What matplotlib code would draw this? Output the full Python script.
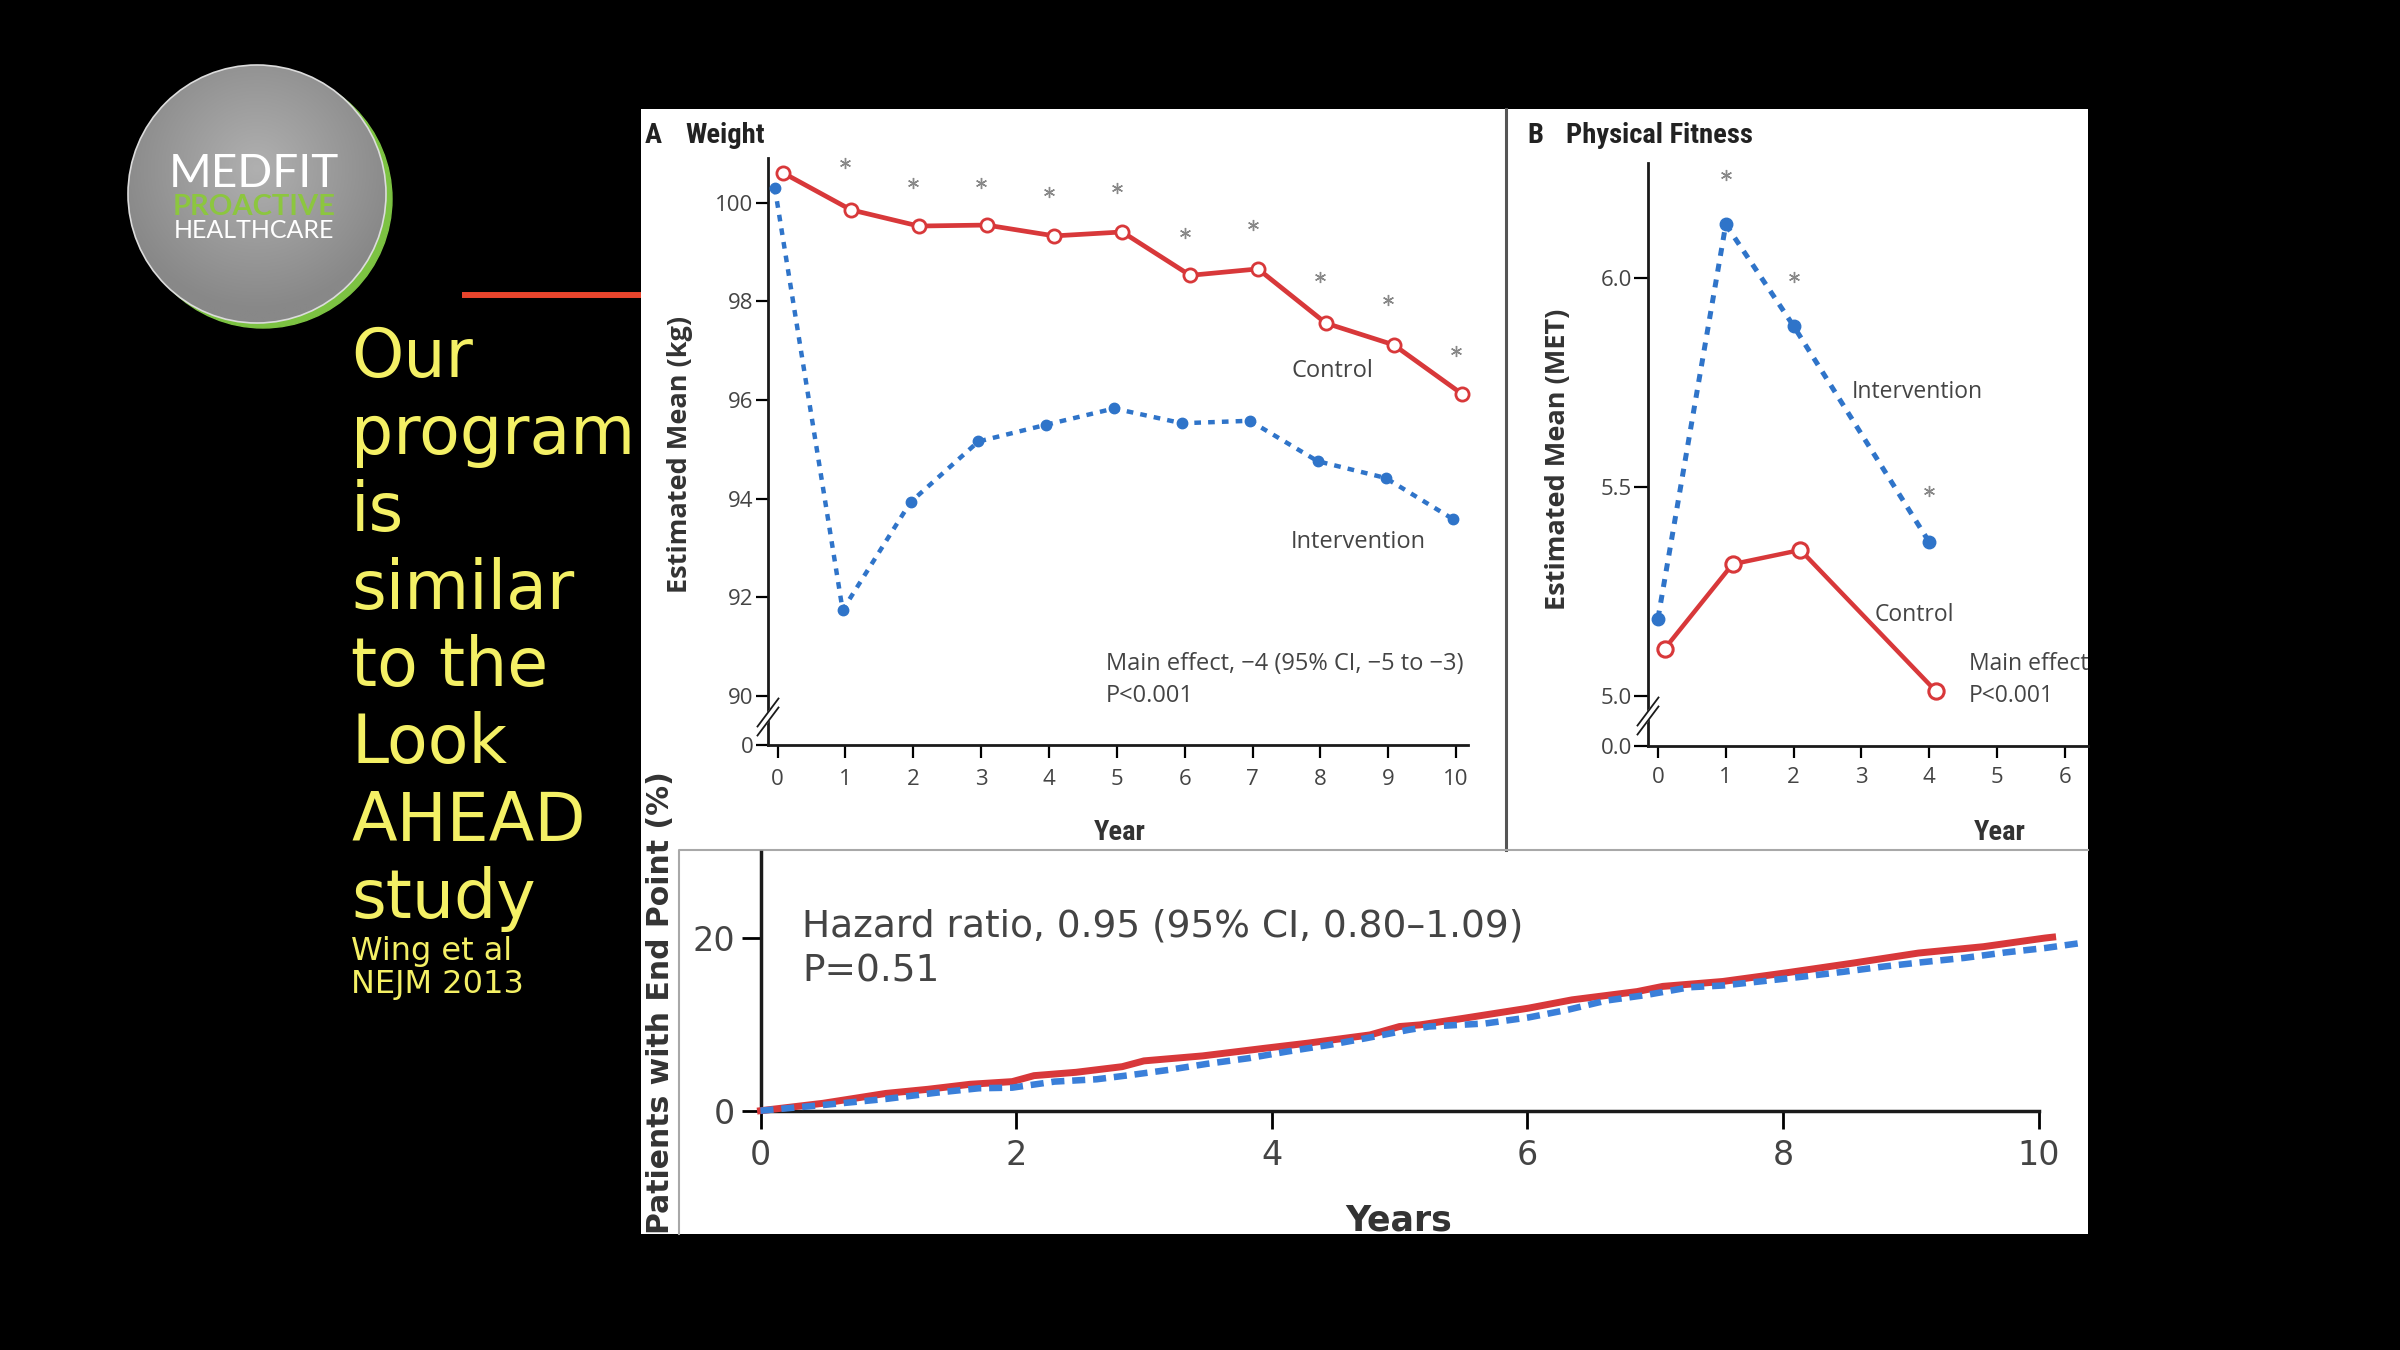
import numpy as np
import matplotlib.pyplot as plt
from matplotlib.patches import Circle, Rectangle
from matplotlib.colors import LinearSegmentedColormap

# slide: Look AHEAD results (weight, fitness, end point) next to a MEDFIT logo

plt.rcParams['font.family'] = ['Open Sans', 'DejaVu Sans']

W, H = 2400, 1350

# ---- data ----
weight_years = np.arange(0, 11)
weight_control = [100.61, 99.86, 99.53, 99.55, 99.33, 99.41, 98.53, 98.66, 97.56, 97.12, 96.13]
weight_interv = [100.31, 91.74, 93.93, 95.16, 95.50, 95.83, 95.53, 95.58, 94.76, 94.42, 93.58]
weight_star_years = np.arange(1, 11)
weight_star_y = [100.80, 100.41, 100.41, 100.22, 100.31, 99.38, 99.56, 98.49, 98.03, 97.00]
weight_ticks = [90, 92, 94, 96, 98, 100]

fitness_years = np.array([0, 1, 2, 4])
fitness_interv = [5.186, 6.129, 5.886, 5.369]
fitness_control = [5.114, 5.316, 5.350, 5.012]
fitness_star_years = [1, 2, 4]
fitness_star_y = [6.247, 6.003, 5.490]
fitness_xticks = [0, 1, 2, 3, 4, 5, 6]
fitness_ticks = [5.0, 5.5, 6.0]

km_ctrl_years = [0, 0.49, 0.98, 1.31, 1.64, 1.97, 2.14, 2.47, 2.83, 3.0, 3.46, 3.95, 4.28,
                 4.77, 5.0, 5.16, 5.5, 6.01, 6.35, 6.86, 7.06, 7.53, 8.04, 8.55, 9.06, 9.57,
                 10.05, 10.11]
km_ctrl = [0, 0.86, 2.0, 2.48, 3.06, 3.37, 4.06, 4.45, 5.1, 5.77, 6.35, 7.24, 7.82,
           8.78, 9.75, 9.94, 10.7, 11.88, 12.84, 13.8, 14.4, 14.97, 16.0, 17.1, 18.26, 19.0,
           20.0, 20.1]
km_int_years = [0, 0.49, 0.98, 1.38, 1.71, 1.97, 2.30, 2.63, 2.90, 3.19, 3.49, 3.82, 4.12,
                4.45, 4.74, 5.07, 5.23, 5.67, 6.01, 6.32, 6.62, 6.93, 7.27, 7.53, 7.87, 8.17,
                8.48, 8.79, 9.09, 9.42, 9.74, 10.05, 10.32]
km_int = [0, 0.66, 1.36, 2.09, 2.6, 2.67, 3.37, 3.64, 4.14, 4.72, 5.42, 6.08, 6.85,
          7.62, 8.4, 9.36, 9.75, 10.1, 10.8, 11.7, 12.76, 13.4, 14.3, 14.5, 15.05, 15.55,
          16.1, 16.7, 17.2, 17.7, 18.33, 18.84, 19.4]
km_xticks = [0, 2, 4, 6, 8, 10]
km_yticks = [0, 20]

slide_lines = ['Our', 'program', 'is', 'similar', 'to the', 'Look', 'AHEAD', 'study']

RED = '#d8383a'
BLUE = '#2f74c9'
TXT = '#444444'
NARROW = ['Roboto Condensed', 'DejaVu Sans Condensed', 'Roboto', 'DejaVu Sans']


def px_rect(x0, y0, x1, y1):
    return [x0 / W, 1 - y1 / H, (x1 - x0) / W, (y1 - y0) / H]


fig = plt.figure(figsize=(24, 13.5), dpi=100, facecolor='black')

# ---- background layer in pixel coordinates ----
bg = fig.add_axes([0, 0, 1, 1], zorder=0)
bg.axis('off')

cx, cy, r = 257, 194, 129
bg.add_patch(Circle((cx + 6, cy + 5), r, color='#7cc242', zorder=1))
yy, xx = np.mgrid[-1:1:300j, -1:1:300j]
rr = np.sqrt(xx ** 2 + (yy + 0.2) ** 2)
grey = LinearSegmentedColormap.from_list('grey', ['#b0b0b0', '#888888'])
im = bg.imshow(rr, cmap=grey, vmin=0, vmax=1.1, extent=(cx - r, cx + r, cy + r, cy - r), zorder=2)
im.set_clip_path(Circle((cx, cy), r, transform=bg.transData))
bg.add_patch(Circle((cx, cy), r, fill=False, ec='#dcdcdc', lw=1.2, zorder=3))
bg.set_aspect('auto')
bg.set_xlim(0, W)
bg.set_ylim(H, 0)

bg.text(254, 187, 'MEDFIT', color='white', fontsize=33, family=['Lato', 'DejaVu Sans'],
        ha='center', va='baseline', zorder=4)
bg.text(254, 215, 'PROACTIVE', color='#8cc63f', fontsize=21, family=['Lato', 'DejaVu Sans'],
        fontweight='bold', ha='center', va='baseline', zorder=4)
bg.text(254, 238, 'HEALTHCARE', color='white', fontsize=18, family=['Lato', 'DejaVu Sans'],
        ha='center', va='baseline', zorder=4)

bg.plot([462, 641], [295, 295], color='#e8442c', lw=4.3, solid_capstyle='butt')

for i, line in enumerate(slide_lines):
    bg.text(351, 376.5 + i * 77.4, line, color='#f4f065', fontsize=48,
            family='DejaVu Sans', va='baseline', ha='left')
bg.text(351, 960, 'Wing et al', color='#f4f065', fontsize=23, family='DejaVu Sans', va='baseline')
bg.text(351, 993, 'NEJM 2013', color='#f4f065', fontsize=23, family='DejaVu Sans', va='baseline')

bg.add_patch(Rectangle((641, 109), 2088 - 641, 1234 - 109, fc='white', ec='none', zorder=1))
bg.plot([1506, 1506], [109, 850], color='#555555', lw=2.2, zorder=2)
bg.plot([679, 679, 2088], [1234, 850, 850], color='#a8a8a8', lw=1.5, zorder=2)

title_kw = dict(fontsize=20.5, family=NARROW, fontweight='bold', color='#222', va='baseline')
bg.text(645, 142.7, 'A', **title_kw)
bg.text(685, 142.7, 'Weight', **title_kw)
bg.text(1527, 142.7, 'B', **title_kw)
bg.text(1566, 142.7, 'Physical Fitness', **title_kw)


def style_axes(ax, lw=2.0):
    for s in ('top', 'right'):
        ax.spines[s].set_visible(False)
    for s in ('left', 'bottom'):
        ax.spines[s].set_linewidth(lw)
        ax.spines[s].set_color('#1a1a1a')


# ---- panel A: weight ----
axA = fig.add_axes(px_rect(768, 158, 1467.7, 744.7), facecolor='none', zorder=2)
style_axes(axA)
axA.set_xlim(-0.14, 10.17)
axA.set_ylim(89.01, 100.91)
axA.plot(weight_years - 0.04, weight_interv, color=BLUE, lw=3.2, ls=(0, (1.5, 1.6)),
         marker='o', ms=7.5, mfc=BLUE, mec=BLUE, clip_on=False, zorder=3)
axA.plot(weight_years + 0.08, weight_control, color=RED, lw=3.4, marker='o', ms=9.5,
         mfc='white', mec=RED, mew=2, clip_on=False, zorder=4)
axA.plot(weight_star_years, weight_star_y, ls='none', marker=(6, 2, 0), ms=8,
         mec='#888888', mew=1.0, clip_on=False)
axA.set_xticks(weight_years)
axA.set_yticks([89.01] + weight_ticks, ['0'] + [str(t) for t in weight_ticks])
axA.tick_params(axis='x', length=9.4, width=1.6, pad=8, labelsize=16, labelcolor=TXT)
axA.tick_params(axis='y', length=8.6, width=1.6, pad=2, labelsize=16, labelcolor=TXT)
axA.set_ylabel('Estimated Mean (kg)', fontsize=19.5, fontweight='bold', color='#333')
axA.yaxis.set_label_coords(-0.107, 0.4955)
axA.set_xlabel('Year', fontsize=20.5, family=NARROW, fontweight='bold', color='#333')
axA.xaxis.set_label_coords(0.503, -0.1266)
axA.text(7.57, 96.46, 'Control', fontsize=17, color=TXT, va='baseline')
axA.text(7.57, 92.99, 'Intervention', fontsize=17, color=TXT, va='baseline')
axA.text(4.84, 90.53, 'Main effect, \u22124 (95% CI, \u22125 to \u22123)', fontsize=17,
         color=TXT, va='baseline')
axA.text(4.84, 89.87, 'P<0.001', fontsize=17, color=TXT, va='baseline')

# ---- panel B: physical fitness ----
axB = fig.add_axes(px_rect(1647.6, 163, 2088, 746), facecolor='none', zorder=2)
style_axes(axB)
axB.set_xlim(-0.153, 6.342)
axB.set_ylim(4.881, 6.276)
axB.plot(fitness_years, fitness_interv, color=BLUE, lw=3.6, ls=(0, (1.6, 1.6)),
         marker='o', ms=9, mfc=BLUE, mec=BLUE, clip_on=False, zorder=3)
axB.plot(fitness_years + 0.1, fitness_control, color=RED, lw=3.2, marker='o', ms=11,
         mfc='white', mec=RED, mew=2.2, clip_on=False, zorder=4)
axB.plot(fitness_star_years, fitness_star_y, ls='none', marker=(6, 2, 0), ms=8,
         mec='#888888', mew=1.0, clip_on=False)
axB.set_xticks(fitness_xticks)
axB.set_yticks([4.881] + fitness_ticks, ['0.0'] + ['%.1f' % t for t in fitness_ticks])
axB.tick_params(axis='x', length=8.6, width=1.6, pad=6.5, labelsize=16, labelcolor=TXT)
axB.tick_params(axis='y', length=9.8, width=1.6, pad=1.5, labelsize=16, labelcolor=TXT)
axB.set_ylabel('Estimated Mean (MET)', fontsize=19.5, fontweight='bold', color='#333')
axB.yaxis.set_label_coords(-0.174, 0.492)
axB.set_xlabel('Year', fontsize=20.5, family=NARROW, fontweight='bold', color='#333')
axB.xaxis.set_label_coords(0.80, -0.125)
axB.text(2.86, 5.714, 'Intervention', fontsize=16.5, color=TXT, va='baseline')
axB.text(3.20, 5.18, 'Control', fontsize=16.5, color=TXT, va='baseline')
axB.text(4.59, 5.064, 'Main effect,', fontsize=16.5, color=TXT, va='baseline', clip_on=True)
axB.text(4.59, 4.986, 'P<0.001', fontsize=16.5, color=TXT, va='baseline')

# ---- panel C: end point ----
axC = fig.add_axes(px_rect(760.5, 851.7, 2088, 1110.7), facecolor='none', zorder=2)
style_axes(axC, lw=2.5)
axC.set_xlim(0, 10.387)
axC.set_ylim(0, 30)
axC.spines['bottom'].set_bounds(0, 10)
axC.plot(km_ctrl_years, km_ctrl, color=RED, lw=5, clip_on=False, zorder=3)
axC.plot(km_int_years, km_int, color='#3a7fd9', lw=4.7, ls=(0, (2, 1.2)), clip_on=False, zorder=4)
axC.set_xticks(km_xticks, [str(t) for t in km_xticks], family='DejaVu Sans')
axC.set_yticks(km_yticks, [str(t) for t in km_yticks], family='DejaVu Sans')
axC.tick_params(axis='x', length=13, width=2, pad=7.5, labelsize=24, labelcolor=TXT)
axC.tick_params(axis='y', length=14, width=2, pad=4, labelsize=24, labelcolor=TXT)
axC.set_ylabel('Patients with End Point (%)', fontsize=21.5, family='DejaVu Sans',
               fontweight='bold', color='#333')
axC.yaxis.set_label_coords(-0.0644, 0.417)
axC.set_xlabel('Years', fontsize=25, family='DejaVu Sans', fontweight='bold', color='#333')
axC.xaxis.set_label_coords(0.481, -0.360)
axC.text(0.325, 20.19, 'Hazard ratio, 0.95 (95% CI, 0.80\u20131.09)', fontsize=27,
         family='DejaVu Sans', color=TXT, va='baseline')
axC.text(0.325, 14.97, 'P=0.51', fontsize=27, family='DejaVu Sans', color=TXT, va='baseline')

# ---- axis break marks on top ----
top = fig.add_axes([0, 0, 1, 1], zorder=5, facecolor='none')
top.axis('off')
top.set_xlim(0, W)
top.set_ylim(H, 0)
for bx, by in [(768, 717), (1648, 716)]:
    top.plot([bx - 9, bx + 9], [by + 12, by - 12], color='white', lw=5, solid_capstyle='butt')
    for off in (-4.5, 4.5):
        top.plot([bx - 10.5, bx + 10.5], [by + off + 14, by + off - 14], color='#1a1a1a', lw=1.3)

fig.savefig('out.png', dpi=100, facecolor='black')
